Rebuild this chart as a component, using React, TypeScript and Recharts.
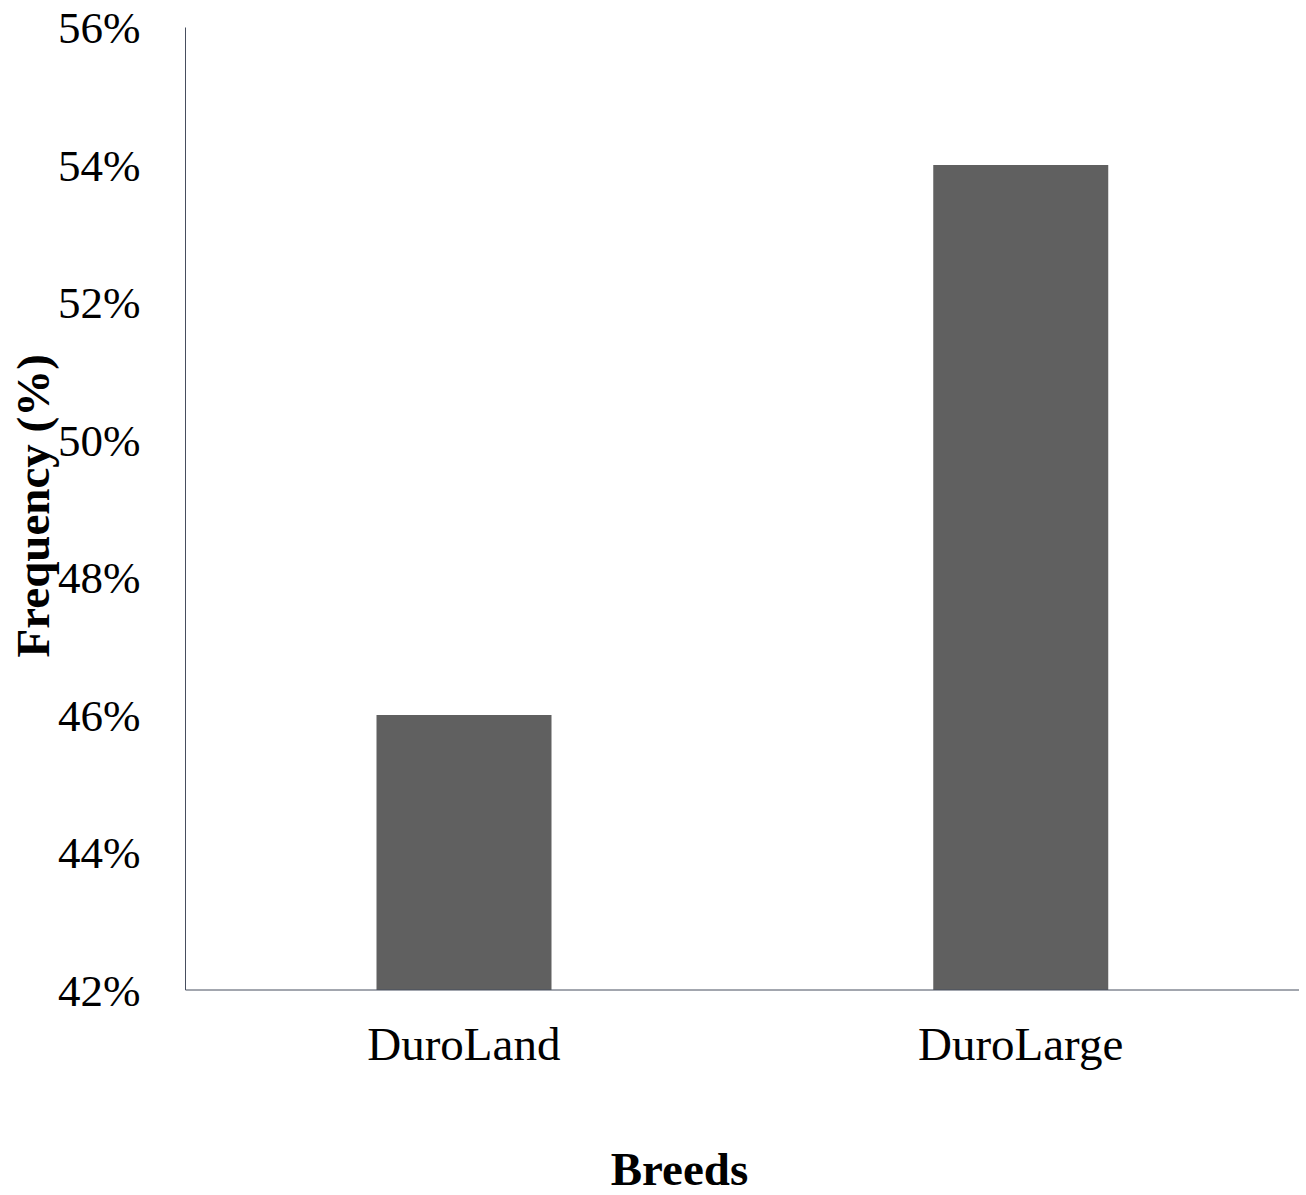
import React from "react";
import { BarChart, Bar, XAxis, YAxis } from "recharts";

const breeds = ["DuroLand", "DuroLarge"];
const frequency = [46, 54];
const yTicks = [42, 44, 46, 48, 50, 52, 54, 56];
const xTitle = "Breeds";
const yTitle = "Frequency (%)";

const data = breeds.map((b, i) => ({ breed: b, value: frequency[i] }));

const FONT = "'Liberation Serif', 'Times New Roman', serif";
const AXIS = "#474e5e";

const XTick = (props: any) => {
  const { x, y, payload } = props;
  return (
    <text x={x} y={y} dy="0.71em" textAnchor="middle" fontFamily={FONT} fontSize={47} fill="#000">
      {payload.value}
    </text>
  );
};

const YTick = (props: any) => {
  const { x, y, payload } = props;
  return (
    <text x={x} y={y} dy="0.355em" textAnchor="end" fontFamily={FONT} fontSize={45} fill="#000">
      {payload.value}%
    </text>
  );
};

export default function App() {
  return (
    <div style={{ position: "absolute", left: 0, top: 0, width: 1306, height: 1195, background: "#fff" }}>
      <BarChart
        width={1306}
        height={1195}
        data={data}
        margin={{ top: 27.5, right: 7, left: 0, bottom: 0 }}
        barCategoryGap={191}
      >
        <XAxis
          dataKey="breed"
          height={205}
          tickLine={false}
          tickSize={0}
          tickMargin={37}
          stroke={AXIS}
          tick={<XTick />}
          label={{
            content: (p: any) => {
              const vb = p.viewBox;
              return (
                <text x={vb.x + 494} y={vb.y + 195} textAnchor="middle" fontFamily={FONT} fontSize={47} fontWeight="bold" fill="#000">
                  {xTitle}
                </text>
              );
            },
          }}
        />
        <YAxis
          width={185.5}
          domain={[42, 56]}
          ticks={yTicks}
          interval={0}
          tickLine={false}
          tickSize={0}
          tickMargin={45}
          stroke={AXIS}
          tick={<YTick />}
          label={{
            content: (p: any) => {
              const vb = p.viewBox;
              const cx = vb.x + 33;
              const cy = vb.y + vb.height / 2 - 3;
              return (
                <text x={cx} y={cy} transform={`rotate(-90, ${cx}, ${cy})`} textAnchor="middle" dominantBaseline="central" fontFamily={FONT} fontSize={47} fontWeight="bold" fill="#000">
                  {yTitle}
                </text>
              );
            },
          }}
        />
        <Bar dataKey="value" fill="#606060" isAnimationActive={false} />
      </BarChart>
    </div>
  );
}
